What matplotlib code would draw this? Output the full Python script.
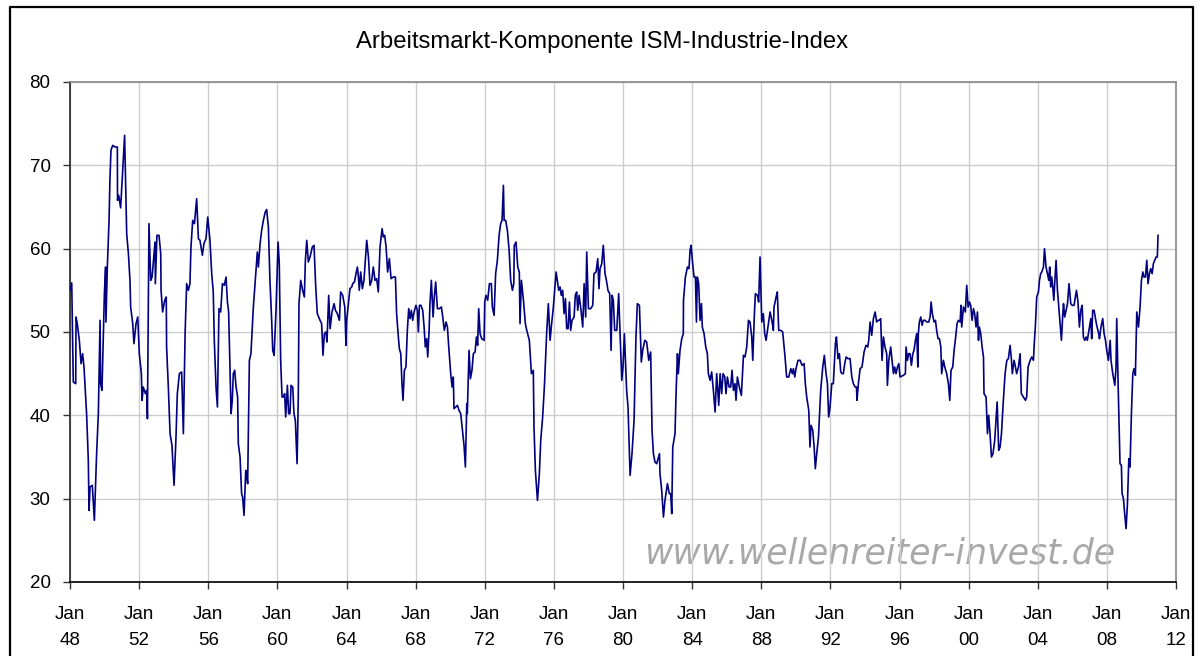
import matplotlib
matplotlib.use("Agg")
import matplotlib.pyplot as plt
from matplotlib.lines import Line2D

# ISM employment component (decimal year, index value)
pts_1948 = [
    (1948.00, 55.0), (1948.10, 55.9), (1948.19, 44.0), (1948.33, 43.8), (1948.35, 51.8), (1948.42, 51.0),
    (1948.54, 49.0), (1948.64, 46.2), (1948.73, 47.4), (1948.81, 45.8), (1948.96, 40.2), (1949.06, 34.6),
    (1949.10, 28.6), (1949.16, 31.4), (1949.29, 31.6), (1949.41, 27.4), (1949.54, 35.4), (1949.64, 40.2),
    (1949.74, 51.4), (1949.77, 43.8), (1949.85, 43.0), (1949.99, 54.6), (1950.06, 57.8), (1950.08, 51.2),
    (1950.16, 57.8), (1950.26, 63.4), (1950.31, 68.2), (1950.37, 71.8), (1950.47, 72.4), (1950.60, 72.2),
    (1950.74, 72.2), (1950.75, 65.8), (1950.82, 66.4), (1950.93, 64.9), (1951.05, 69.4), (1951.16, 73.6),
    (1951.28, 61.8), (1951.38, 59.4), (1951.47, 56.2), (1951.51, 53.0), (1951.63, 51.0), (1951.70, 48.6),
    (1951.82, 51.0), (1951.92, 51.8), (1952.01, 47.4), (1952.13, 45.0), (1952.17, 41.8), (1952.24, 43.4),
    (1952.36, 42.6), (1952.44, 43.0), (1952.48, 39.6), (1952.57, 63.0), (1952.67, 56.2), (1952.75, 56.6),
    (1952.92, 60.8), (1952.94, 55.8), (1953.03, 61.6), (1953.15, 61.6), (1953.25, 59.4), (1953.27, 55.0),
    (1953.36, 52.4), (1953.48, 53.8), (1953.57, 54.2), (1953.59, 48.2), (1953.69, 43.4), (1953.79, 37.8),
    (1953.90, 36.4), (1954.02, 31.6), (1954.13, 37.2), (1954.21, 42.6), (1954.33, 45.0), (1954.46, 45.2),
    (1954.56, 37.8), (1954.66, 49.8), (1954.75, 55.8), (1954.85, 55.0), (1954.94, 55.8), (1955.00, 60.2),
    (1955.10, 63.4), (1955.20, 63.0), (1955.33, 66.0), (1955.43, 61.2), (1955.52, 61.0), (1955.66, 59.2),
    (1955.75, 60.6), (1955.87, 61.2), (1955.97, 63.8),
]

pts_1956 = [
    (1956.10, 61.0), (1956.20, 57.0), (1956.29, 54.8), (1956.35, 49.0), (1956.45, 43.4), (1956.53, 41.0),
    (1956.62, 52.8), (1956.72, 52.4), (1956.82, 55.8), (1956.93, 55.6), (1957.03, 56.6), (1957.11, 53.6),
    (1957.18, 52.4), (1957.26, 45.4), (1957.32, 40.2), (1957.39, 41.8), (1957.45, 45.0), (1957.53, 45.4),
    (1957.61, 43.4), (1957.70, 42.2), (1957.74, 36.6), (1957.84, 35.0), (1957.93, 30.6), (1957.99, 30.2),
    (1958.07, 28.0), (1958.17, 33.4), (1958.22, 33.0), (1958.28, 31.8), (1958.38, 46.6), (1958.47, 47.4),
    (1958.61, 53.0), (1958.75, 57.0), (1958.84, 59.6), (1958.90, 57.8), (1959.00, 60.6), (1959.09, 62.2),
    (1959.19, 63.4), (1959.30, 64.4), (1959.38, 64.7), (1959.48, 62.6), (1959.57, 56.2), (1959.67, 51.4),
    (1959.73, 47.8), (1959.81, 47.2), (1959.92, 52.6), (1960.04, 60.8), (1960.11, 58.2), (1960.19, 46.6),
    (1960.27, 42.2), (1960.35, 42.2), (1960.42, 42.6), (1960.48, 39.8), (1960.58, 43.6), (1960.65, 40.2),
    (1960.73, 40.2), (1960.79, 43.6), (1960.89, 43.4), (1960.96, 40.2), (1961.04, 39.4), (1961.14, 34.2),
    (1961.21, 42.2), (1961.25, 53.4), (1961.35, 56.2), (1961.46, 55.0), (1961.56, 54.2), (1961.62, 58.6),
    (1961.70, 61.0), (1961.79, 58.4), (1961.89, 59.0), (1962.02, 60.2), (1962.12, 60.4), (1962.22, 55.4),
    (1962.31, 52.2), (1962.47, 51.4), (1962.56, 51.0), (1962.64, 47.2), (1962.72, 49.8), (1962.81, 50.0),
    (1962.87, 48.8), (1962.97, 54.4), (1963.05, 50.4), (1963.16, 52.4), (1963.28, 53.4), (1963.36, 52.6),
    (1963.47, 52.2), (1963.59, 51.4), (1963.66, 54.8),
]

pts_1964 = [
    (1963.78, 54.4), (1963.90, 53.0), (1963.93, 51.2), (1963.97, 48.4), (1964.01, 51.4), (1964.11, 53.4),
    (1964.20, 55.2), (1964.30, 55.4), (1964.36, 55.8), (1964.46, 56.0), (1964.55, 57.0), (1964.63, 57.8),
    (1964.69, 56.6), (1964.74, 55.0), (1964.82, 57.2), (1964.92, 55.2), (1965.01, 56.2), (1965.09, 58.6),
    (1965.17, 61.0), (1965.27, 59.0), (1965.36, 55.6), (1965.46, 56.2), (1965.55, 57.8), (1965.65, 56.2),
    (1965.75, 56.4), (1965.84, 54.8), (1965.94, 60.2), (1966.06, 62.4), (1966.13, 61.4), (1966.21, 61.6),
    (1966.29, 60.2), (1966.38, 57.2), (1966.48, 58.8), (1966.58, 56.4), (1966.71, 56.6), (1966.83, 56.6),
    (1966.90, 52.2), (1967.00, 49.4), (1967.06, 48.0), (1967.14, 47.4), (1967.21, 43.8), (1967.27, 41.8),
    (1967.35, 45.4), (1967.44, 45.8), (1967.52, 50.2), (1967.60, 52.8), (1967.68, 51.6), (1967.75, 52.6),
    (1967.83, 51.4), (1967.91, 52.4), (1968.02, 53.2), (1968.10, 52.6), (1968.16, 50.0), (1968.22, 53.2),
    (1968.31, 53.2), (1968.41, 52.6), (1968.49, 50.6), (1968.56, 48.2), (1968.64, 49.2), (1968.70, 47.0),
    (1968.78, 50.2), (1968.83, 53.4), (1968.91, 56.2), (1969.01, 51.8), (1969.08, 54.2), (1969.16, 56.0),
    (1969.26, 52.8), (1969.37, 52.8), (1969.49, 53.0), (1969.57, 51.8), (1969.66, 50.2), (1969.76, 51.2),
    (1969.84, 50.6), (1969.91, 48.4), (1970.03, 45.0), (1970.11, 43.4), (1970.18, 44.6), (1970.22, 40.8),
    (1970.32, 41.0), (1970.42, 41.2), (1970.51, 40.6), (1970.61, 40.2), (1970.70, 38.4), (1970.80, 36.4),
    (1970.88, 33.8), (1970.96, 41.4), (1970.99, 40.2), (1971.09, 47.8), (1971.17, 44.4), (1971.26, 45.4),
    (1971.34, 47.4), (1971.44, 47.6), (1971.52, 49.4), (1971.59, 48.4), (1971.65, 52.8), (1971.73, 49.8),
]

pts_1972 = [
    (1971.82, 49.2), (1971.96, 49.0), (1972.00, 53.6), (1972.07, 54.4), (1972.17, 53.8), (1972.27, 55.8),
    (1972.38, 55.8), (1972.44, 53.0), (1972.54, 52.0), (1972.63, 57.0), (1972.73, 58.6), (1972.83, 61.6),
    (1972.92, 63.0), (1973.00, 63.4), (1973.08, 67.6), (1973.12, 63.4), (1973.21, 63.4), (1973.31, 62.2),
    (1973.41, 59.8), (1973.50, 56.2), (1973.60, 55.0), (1973.68, 55.8), (1973.71, 60.4), (1973.81, 60.8),
    (1973.91, 57.8), (1974.00, 57.2), (1974.04, 51.0), (1974.12, 56.2), (1974.24, 53.8), (1974.35, 51.0),
    (1974.43, 50.2), (1974.58, 49.0), (1974.70, 45.0), (1974.81, 45.4), (1974.85, 38.6), (1974.93, 33.4),
    (1975.05, 29.8), (1975.16, 33.0), (1975.24, 37.0), (1975.35, 39.8), (1975.45, 43.4), (1975.59, 50.2),
    (1975.68, 53.4), (1975.78, 49.0), (1975.87, 51.0), (1975.97, 53.0), (1976.13, 57.2), (1976.20, 56.2),
    (1976.28, 55.0), (1976.36, 55.4), (1976.43, 54.4), (1976.51, 55.0), (1976.59, 52.2), (1976.67, 54.0),
    (1976.74, 50.4), (1976.82, 50.4), (1976.90, 53.6), (1976.97, 50.2), (1977.05, 51.4), (1977.17, 51.8),
    (1977.24, 54.4), (1977.32, 54.8), (1977.38, 52.6), (1977.46, 54.4), (1977.57, 52.6), (1977.67, 50.6),
    (1977.75, 55.8), (1977.84, 51.8), (1977.90, 59.6), (1978.00, 52.8), (1978.13, 52.8), (1978.25, 53.2),
    (1978.32, 57.0), (1978.44, 57.2), (1978.54, 58.8), (1978.61, 55.2), (1978.67, 57.6), (1978.77, 58.2),
    (1978.86, 60.4), (1978.96, 57.0), (1979.04, 56.2), (1979.13, 55.0), (1979.23, 54.6), (1979.31, 47.8),
    (1979.37, 54.4), (1979.44, 53.8), (1979.52, 50.2), (1979.64, 50.2), (1979.75, 54.6), (1979.83, 49.8),
    (1979.93, 44.2), (1980.00, 45.8), (1980.08, 49.8), (1980.14, 46.6), (1980.21, 43.0), (1980.29, 41.0),
]

pts_1980 = [
    (1980.41, 32.8), (1980.52, 35.4), (1980.64, 39.4), (1980.75, 49.4), (1980.83, 53.4), (1980.95, 53.2),
    (1981.06, 46.4), (1981.14, 47.8), (1981.26, 49.0), (1981.37, 48.8), (1981.49, 46.6), (1981.60, 47.6),
    (1981.68, 38.2), (1981.76, 35.4), (1981.85, 34.4), (1981.95, 34.2), (1982.11, 35.4), (1982.14, 33.0),
    (1982.24, 31.0), (1982.34, 27.8), (1982.43, 29.8), (1982.57, 31.8), (1982.68, 30.6), (1982.76, 30.6),
    (1982.82, 28.2), (1982.88, 36.2), (1983.01, 37.8), (1983.07, 42.6), (1983.15, 47.4), (1983.20, 45.0),
    (1983.30, 47.8), (1983.40, 49.2), (1983.49, 49.8), (1983.50, 53.8), (1983.61, 56.6), (1983.73, 57.8),
    (1983.82, 57.6), (1983.88, 59.8), (1983.94, 60.4), (1984.03, 58.2), (1984.11, 56.6), (1984.19, 56.6),
    (1984.25, 51.2), (1984.30, 56.6), (1984.38, 55.8), (1984.46, 51.4), (1984.54, 53.4), (1984.59, 50.6),
    (1984.69, 49.8), (1984.79, 48.2), (1984.88, 47.4), (1984.94, 45.0), (1985.04, 44.2), (1985.13, 45.2),
    (1985.23, 43.0), (1985.33, 40.4), (1985.42, 45.0), (1985.54, 41.2), (1985.62, 45.0), (1985.71, 42.6),
    (1985.79, 45.0), (1985.89, 44.6), (1985.96, 42.6), (1986.04, 44.6), (1986.14, 43.4), (1986.23, 43.4),
    (1986.31, 45.4), (1986.39, 43.0), (1986.48, 43.8), (1986.54, 41.8), (1986.62, 44.6), (1986.73, 43.4),
    (1986.85, 42.4), (1986.97, 47.2), (1987.06, 47.0), (1987.16, 48.2), (1987.26, 51.4), (1987.35, 51.2),
    (1987.45, 49.4), (1987.51, 46.6), (1987.60, 52.0), (1987.66, 54.6), (1987.78, 54.4), (1987.85, 53.6),
    (1987.93, 59.0),
]

pts_1988 = [
    (1988.03, 51.2), (1988.12, 52.2), (1988.20, 49.8), (1988.28, 49.0), (1988.39, 50.6), (1988.51, 52.4),
    (1988.63, 51.2), (1988.70, 50.2), (1988.74, 53.0), (1988.86, 54.2), (1988.93, 54.8), (1989.01, 50.2),
    (1989.13, 50.2), (1989.24, 50.0), (1989.36, 47.4), (1989.47, 44.6), (1989.59, 44.6), (1989.71, 45.6),
    (1989.80, 45.0), (1989.86, 45.6), (1989.94, 44.6), (1990.01, 45.6), (1990.13, 46.6), (1990.25, 46.6),
    (1990.36, 46.0), (1990.48, 46.2), (1990.55, 43.8), (1990.63, 42.2), (1990.75, 40.6), (1990.82, 36.2),
    (1990.88, 38.8), (1990.98, 38.2), (1991.06, 36.2), (1991.13, 33.6), (1991.21, 35.4), (1991.31, 37.4),
    (1991.40, 41.4), (1991.44, 43.0), (1991.56, 45.8), (1991.65, 47.2), (1991.75, 45.0), (1991.83, 43.8),
    (1991.90, 39.8), (1991.98, 41.0), (1992.08, 43.8), (1992.17, 43.8), (1992.29, 48.6), (1992.35, 49.4),
    (1992.44, 46.8), (1992.52, 47.4), (1992.60, 45.2), (1992.68, 45.0), (1992.75, 45.0), (1992.83, 46.2),
    (1992.91, 47.0), (1993.02, 46.8), (1993.14, 46.8), (1993.24, 44.6), (1993.33, 43.8), (1993.43, 43.4),
    (1993.51, 43.4), (1993.54, 41.8), (1993.62, 43.8), (1993.72, 45.6), (1993.83, 45.8), (1993.95, 47.6),
    (1994.06, 48.4), (1994.16, 48.2), (1994.22, 49.0), (1994.30, 51.2), (1994.39, 49.6), (1994.49, 51.6),
    (1994.59, 52.4), (1994.68, 51.2), (1994.76, 51.4), (1994.84, 51.4), (1994.91, 51.6), (1994.99, 46.6),
    (1995.07, 49.4), (1995.16, 48.2), (1995.26, 47.4), (1995.30, 43.6), (1995.38, 46.6), (1995.49, 48.2),
    (1995.57, 46.6), (1995.65, 45.0), (1995.72, 45.8), (1995.80, 45.0), (1995.88, 45.8), (1995.96, 46.2),
    (1996.03, 44.6),
]

pts_1996 = [
    (1996.23, 44.8), (1996.34, 45.0), (1996.38, 48.2), (1996.46, 46.6), (1996.53, 47.4), (1996.61, 47.4),
    (1996.69, 46.0), (1996.77, 47.4), (1996.84, 47.8), (1996.92, 49.0), (1997.00, 49.8), (1997.06, 45.8),
    (1997.09, 49.8), (1997.15, 51.2), (1997.23, 51.8), (1997.31, 50.8), (1997.38, 51.4), (1997.48, 51.4),
    (1997.58, 51.2), (1997.69, 51.2), (1997.77, 51.8), (1997.83, 53.6), (1997.90, 52.2), (1998.00, 51.2),
    (1998.08, 51.4), (1998.15, 50.2), (1998.23, 49.2), (1998.31, 49.2), (1998.39, 48.2), (1998.44, 45.0),
    (1998.54, 46.6), (1998.62, 45.8), (1998.73, 45.0), (1998.83, 43.8), (1998.91, 41.8), (1998.98, 45.4),
    (1999.08, 45.8), (1999.16, 47.8), (1999.24, 49.2), (1999.33, 51.0), (1999.41, 51.4), (1999.51, 51.2),
    (1999.56, 53.2), (1999.60, 50.6), (1999.70, 53.0), (1999.81, 52.4), (1999.89, 55.6), (1999.97, 53.0),
    (2000.05, 53.6), (2000.12, 53.2), (2000.20, 51.4), (2000.28, 52.8), (2000.35, 52.2), (2000.43, 50.6),
    (2000.51, 52.4), (2000.57, 49.0), (2000.62, 50.6), (2000.70, 49.8), (2000.78, 48.2), (2000.86, 47.0),
    (2000.89, 42.6), (2001.01, 42.2), (2001.09, 37.8), (2001.16, 40.0), (2001.24, 37.8), (2001.32, 35.0),
    (2001.41, 35.4), (2001.51, 37.0), (2001.65, 41.6), (2001.74, 35.8), (2001.82, 36.2), (2001.90, 37.8),
    (2002.01, 41.8), (2002.11, 45.0), (2002.21, 46.6), (2002.30, 46.8), (2002.40, 48.4), (2002.48, 46.6),
    (2002.53, 45.0), (2002.63, 46.6), (2002.71, 45.8), (2002.78, 45.0), (2002.88, 45.8), (2002.98, 47.4),
    (2003.05, 42.6), (2003.17, 42.2), (2003.29, 41.8), (2003.36, 42.2), (2003.44, 45.8), (2003.56, 46.6),
    (2003.65, 47.0), (2003.75, 46.6), (2003.81, 49.0), (2003.86, 50.6), (2003.94, 54.2), (2004.04, 54.8),
    (2004.10, 56.2), (2004.17, 57.0),
]

pts_2004 = [
    (2004.23, 57.2), (2004.33, 57.8), (2004.39, 60.0), (2004.48, 57.8), (2004.56, 57.0), (2004.64, 56.2),
    (2004.69, 57.8), (2004.75, 55.4), (2004.81, 56.6), (2004.87, 55.4), (2004.93, 53.8), (2004.98, 55.8),
    (2005.06, 58.6), (2005.14, 55.0), (2005.23, 52.6), (2005.29, 51.0), (2005.37, 49.0), (2005.45, 52.2),
    (2005.49, 53.4), (2005.56, 51.8), (2005.64, 52.6), (2005.72, 53.4), (2005.81, 55.8), (2005.91, 53.4),
    (2005.99, 53.2), (2006.10, 53.2), (2006.24, 55.0), (2006.33, 53.6), (2006.41, 50.6), (2006.49, 52.6),
    (2006.57, 53.2), (2006.64, 49.4), (2006.72, 49.0), (2006.80, 49.4), (2006.87, 49.0), (2006.99, 50.6),
    (2007.07, 51.6), (2007.12, 49.2), (2007.18, 52.6), (2007.26, 52.6), (2007.34, 51.6), (2007.41, 50.8),
    (2007.53, 49.8), (2007.57, 49.2), (2007.66, 50.6), (2007.76, 51.6), (2007.84, 49.8), (2007.92, 49.0),
    (2007.99, 47.8), (2008.09, 46.6), (2008.19, 49.0), (2008.24, 46.6), (2008.34, 45.0), (2008.46, 43.6),
    (2008.53, 45.8), (2008.57, 51.6), (2008.65, 43.8), (2008.76, 34.2), (2008.84, 34.0), (2008.88, 30.6),
    (2008.96, 30.0), (2009.03, 28.2), (2009.11, 26.4), (2009.19, 29.4), (2009.27, 34.8), (2009.34, 33.8),
    (2009.42, 40.2), (2009.50, 45.0), (2009.57, 45.6), (2009.65, 44.8), (2009.73, 52.4), (2009.83, 50.6),
    (2009.92, 53.0), (2010.00, 56.2), (2010.08, 57.2), (2010.15, 56.6), (2010.23, 56.6), (2010.31, 58.6),
    (2010.38, 55.8), (2010.46, 57.0), (2010.54, 57.6), (2010.62, 57.0), (2010.69, 58.2), (2010.77, 58.6),
    (2010.85, 59.0), (2010.92, 59.0), (2010.96, 61.6),
]

tick_years = list(range(1948, 2013, 4))
tick_labels = [f"Jan\n{y % 100:02d}" for y in tick_years]
y_ticks = [20, 30, 40, 50, 60, 70, 80]

title = "Arbeitsmarkt-Komponente ISM-Industrie-Index"
watermark = "www.wellenreiter-invest.de"

all_pts = pts_1948 + pts_1956 + pts_1964 + pts_1972 + pts_1980 + pts_1988 + pts_1996 + pts_2004
xs = [p[0] for p in all_pts]
ys = [p[1] for p in all_pts]

plt.rcParams['font.family'] = ['Liberation Sans', 'DejaVu Sans']

fig = plt.figure(figsize=(11.98, 6.56), dpi=100)
fig.patch.set_facecolor('white')
ax = fig.add_axes([70 / 1198, 1 - 582 / 656, 1106 / 1198, 500 / 656])

ax.plot(xs, ys, color='#000080', linewidth=1.2, zorder=3)

ax.set_xlim(1948, 2012)
ax.set_ylim(20, 80)
ax.set_xticks(tick_years)
ax.set_xticklabels(tick_labels, fontsize=13.5, linespacing=1.75)
ax.set_yticks(y_ticks)
ax.tick_params(axis='y', labelsize=13.5, direction='out', length=5, width=1, pad=9, color='#333333')
ax.tick_params(axis='x', direction='out', length=5, width=1, pad=12, color='#333333')

ax.grid(True, color='#cccccc', linewidth=1)
ax.set_axisbelow(True)
for side in ['top', 'right']:
    ax.spines[side].set_color('#888888')
    ax.spines[side].set_linewidth(1.2)
ax.spines['left'].set_color('#333333')
ax.spines['bottom'].set_color('#111111')
ax.spines['left'].set_linewidth(1.3)
ax.spines['bottom'].set_linewidth(1.3)

fig.text(602 / 1198, 1 - 42 / 656, title, ha='center', va='center', fontsize=17.2)

# watermark sits under the grid lines like in the original
ax.text(1115 / 1198, 1 - 563 / 656, watermark, transform=fig.transFigure, ha='right', va='baseline',
        fontsize=25, style='italic', color='#a8a8a8', family='DejaVu Sans', zorder=0.3)

# outer chart frame (left, top, right)
fx0, fx1, fy1 = 9.5 / 1198, 1192.5 / 1198, 1 - 6.5 / 656
fig.add_artist(Line2D([fx0, fx0, fx1, fx1], [0, fy1, fy1, 0], transform=fig.transFigure,
                      color='black', linewidth=1.6))

fig.savefig('out.png', dpi=100)
